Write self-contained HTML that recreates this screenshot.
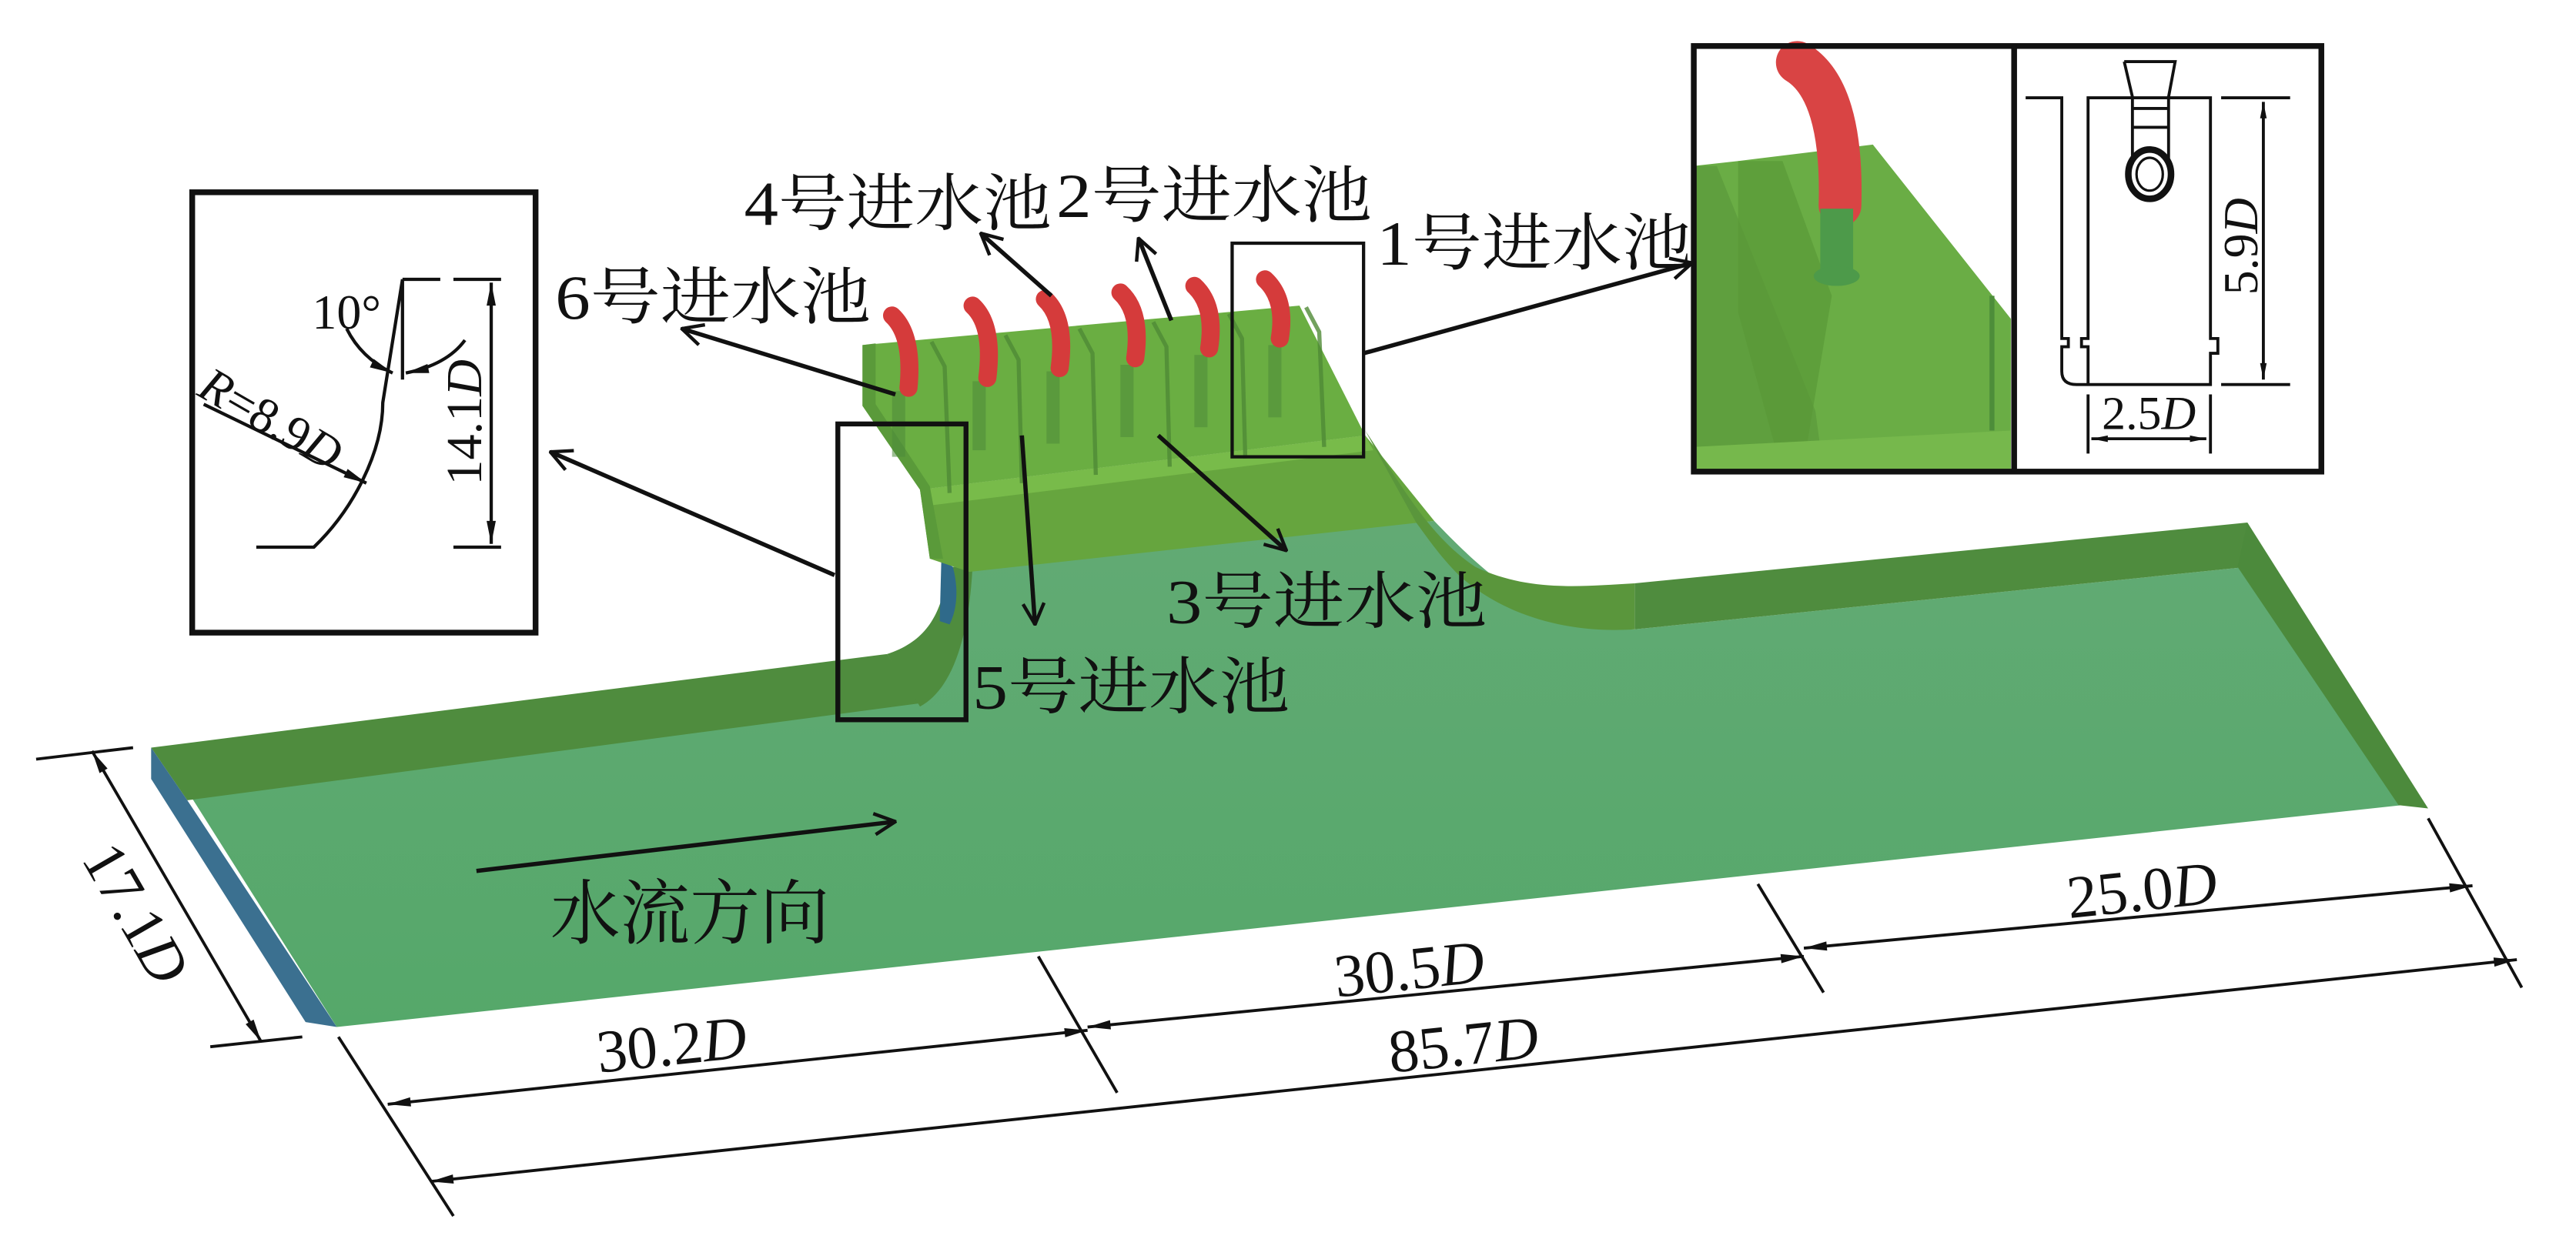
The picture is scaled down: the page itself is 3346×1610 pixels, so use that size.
<!DOCTYPE html>
<html><head><meta charset="utf-8"><style>
html,body{margin:0;padding:0;background:#fff;}
svg{display:block;}
text{font-family:"Liberation Serif","Noto Serif CJK SC","Noto Sans CJK SC",serif;fill:#111;}
</style></head><body>
<svg width="3346" height="1610" viewBox="0 0 1568 754" preserveAspectRatio="none" xmlns="http://www.w3.org/2000/svg">
<defs>
<marker id="fa" viewBox="0 0 20 10" refX="20" refY="5" markerWidth="17" markerHeight="7" orient="auto" markerUnits="userSpaceOnUse"><path d="M0,1 L20,5 L0,9 Z" fill="#111"/></marker>
<marker id="fs" viewBox="0 0 20 10" refX="0" refY="5" markerWidth="17" markerHeight="7" orient="auto" markerUnits="userSpaceOnUse"><path d="M20,1 L0,5 L20,9 Z" fill="#111"/></marker>
<marker id="sa" viewBox="0 0 20 10" refX="20" refY="5" markerWidth="12" markerHeight="5" orient="auto" markerUnits="userSpaceOnUse"><path d="M0,1 L20,5 L0,9 Z" fill="#111"/></marker>
<marker id="ss" viewBox="0 0 20 10" refX="0" refY="5" markerWidth="12" markerHeight="5" orient="auto" markerUnits="userSpaceOnUse"><path d="M20,1 L0,5 L20,9 Z" fill="#111"/></marker>
<marker id="oa" viewBox="0 0 20 20" refX="19" refY="10" markerWidth="16" markerHeight="16" orient="auto" markerUnits="userSpaceOnUse"><path d="M3,2 L19,10 L3,18" fill="none" stroke="#111" stroke-width="2.6"/></marker>
<linearGradient id="fl" x1="0" y1="0" x2="0" y2="1"><stop offset="0" stop-color="#62aa74"/><stop offset="1" stop-color="#55a86a"/></linearGradient>
</defs>

<path d="M112,478 L560,425 L590,345 L873,317 C900,345 940,385 995,383 L1368,345 L1462,490 L205,625 Z" fill="url(#fl)"/>
<path d="M92,455 L540,398 L560,428 L114,487 Z" fill="#4f8c3e"/>
<path d="M92,455 L114,487 L205,625 L186,622 L92,474 Z" fill="#3b7090"/>
<path d="M540,398 C565,390 574,372 577,345 L592,345 C590,382 582,418 560,430 Z" fill="#4f8c3e"/>
<path d="M573,340 L580,345 C584,360 582,372 578,380 L572,378 Z" fill="#2f6a8a"/>
<path d="M525,210 L791,186 L831,265 L560,298 L525,247 Z" fill="#6aae42"/>
<path d="M560,298 L831,265 L873,317 L590,348 L566,340 Z" fill="#66a53e"/>
<path d="M560,298 L831,265 L836,274 L563,308 Z" fill="#78bb4a"/>
<path d="M525,210 L525,247 L560,298 L566,340 L574,340 L566,296 L533,246 L533,209 Z" fill="#5a9a3a"/>
<path d="M831,262 C850,290 868,325 898,345 C930,360 960,357 995,355 L995,383 C950,386 912,372 888,350 C876,338 868,326 862,318 Z" fill="#5a963c"/>
<path d="M995,355 L1368,318 L1368,345 L995,383 Z" fill="#4f8c3e"/>
<path d="M1368,318 L1478,492 L1460,490 L1362,345 Z" fill="#4c8a3c"/>
<g stroke="#4f8a36" stroke-width="2.5" fill="none" opacity="0.8">
<path d="M567,208 L575,223 L578,300"/><path d="M612,204 L620,219 L622,294"/><path d="M657,200 L665,215 L667,289"/><path d="M702,196 L710,211 L712,284"/><path d="M748,191 L756,206 L758,279"/><path d="M795,187 L803,202 L806,272"/>
</g>
<g fill="#4d8a3a" opacity="0.55">
<rect x="543" y="238" width="8" height="40"/><rect x="592" y="232" width="8" height="42"/><rect x="637" y="226" width="8" height="44"/><rect x="682" y="222" width="8" height="44"/><rect x="727" y="216" width="8" height="44"/><rect x="772" y="210" width="8" height="44"/>
</g>
<g stroke="#d53b3b" stroke-width="11" fill="none" stroke-linecap="round">
<path d="M543,192 Q556,204 553,236"/><path d="M592,186 Q605,198 601,230"/><path d="M636,182 Q649,194 645,224"/><path d="M682,178 Q695,190 691,218"/><path d="M727,174 Q740,186 736,212"/><path d="M770,170 Q783,182 779,206"/>
</g>

<rect x="510" y="258" width="78" height="180" fill="none" stroke="#111" stroke-width="3"/>
<rect x="750" y="148" width="80" height="130" fill="none" stroke="#111" stroke-width="2"/>

<rect x="117" y="117" width="209" height="268" fill="#fff" stroke="#111" stroke-width="3.5"/>
<g stroke="#111" stroke-width="2" fill="none">
<path d="M156,333 L191,333 C215,310 233,275 233,245 L245,170 L245,231"/>
<path d="M245,170 L268,170 M276,170 L305,170 M276,333 L305,333"/>
<path d="M299,172 L299,331" marker-start="url(#fs)" marker-end="url(#fa)"/>
<path d="M211,200 Q220,218 239,227" marker-end="url(#fa)"/>
<path d="M283,207 Q272,222 247,227" marker-end="url(#fa)"/>
<path d="M124,246 L223,294" marker-end="url(#fa)"/>
</g>
<text x="190" y="200" font-size="30">10°</text>
<text transform="translate(293,257) rotate(-90)" font-size="31" text-anchor="middle">14.1<tspan font-style="italic">D</tspan></text>
<text transform="translate(119,240) rotate(30)" font-size="30"><tspan font-style="italic">R</tspan>=8.9<tspan font-style="italic">D</tspan></text>

<rect x="1031" y="28" width="382" height="259" fill="#fff"/>
<path d="M1031,101 L1058,98 L1140,88 L1224,194 L1224,287 L1031,287 Z" fill="#6aad45"/>
<path d="M1031,101 L1045,101 L1105,250 L1110,287 L1031,287 Z" fill="#5f9f3e"/>
<path d="M1058,98 L1085,98 L1115,180 L1100,270 L1080,270 L1058,190 Z" fill="#5a9838" opacity="0.7"/>
<path d="M1031,272 L1224,262 L1224,287 L1031,287 Z" fill="#76b84c"/>
<path d="M1094,38 Q1122,55 1120,125" stroke="#d94444" stroke-width="26" fill="none" stroke-linecap="round"/>
<rect x="1108" y="127" width="20" height="40" fill="#4d9a4a"/>
<ellipse cx="1118" cy="168" rx="14" ry="6" fill="#4d9a4a"/>
<path d="M1211,180 L1214,180 L1214,262 L1211,262 Z" fill="#4d8d3a"/>
<rect x="1031" y="28" width="382" height="259" fill="none" stroke="#111" stroke-width="3.5"/>
<line x1="1226" y1="28" x2="1226" y2="287" stroke="#111" stroke-width="3.5"/>
<g stroke="#111" stroke-width="1.8" fill="none">
<path d="M1233,59.5 L1255,59.5 L1255,206 L1259,206 L1259,211 L1255,211 L1255,226 Q1255,234 1264,234 L1345.5,234 L1345.5,215 L1350,215 L1350,206 L1345.5,206 L1345.5,59.5 L1271,59.5 L1271,206 L1267,206 L1267,211 L1271,211 L1271,234"/>
<path d="M1352,59.5 L1394,59.5 M1352,234 L1394,234"/>
<path d="M1377.7,62 L1377.7,231" marker-start="url(#ss)" marker-end="url(#sa)"/>
<path d="M1271,240 L1271,276 M1345.5,240 L1345.5,276"/>
<path d="M1273,267 L1343,267" marker-start="url(#ss)" marker-end="url(#sa)"/>
<path d="M1293,37.5 L1324,37.5 L1320,59 L1320,100 M1298,59 L1293,37.5 M1298,59 L1298,100 M1298,66 L1320,66 M1298,77.5 L1320,77.5"/>
</g>
<ellipse cx="1308.5" cy="106" rx="13" ry="15" fill="none" stroke="#111" stroke-width="4"/>
<ellipse cx="1308.5" cy="106" rx="8" ry="10" fill="none" stroke="#111" stroke-width="1.5"/>
<text transform="translate(1374,150) rotate(-90)" font-size="30" text-anchor="middle">5.9<tspan font-style="italic">D</tspan></text>
<text x="1308" y="261" font-size="29" text-anchor="middle">2.5<tspan font-style="italic">D</tspan></text>

<g stroke="#111" stroke-width="2.6" fill="none">
<path d="M545,240 L415,200" marker-end="url(#oa)"/>
<path d="M640,180 L597,142" marker-end="url(#oa)"/>
<path d="M713,195 L693,145" marker-end="url(#oa)"/>
<path d="M830,215 L1030,160" marker-end="url(#oa)"/>
<path d="M508,350 L335,275" marker-end="url(#oa)"/>
<path d="M622,265 L630,380" marker-end="url(#oa)"/>
<path d="M705,265 L783,335" marker-end="url(#oa)"/>
<path d="M290,530 L545,500" marker-end="url(#oa)"/>
</g>

<g font-size="38">
<text x="453" y="137" textLength="187" lengthAdjust="spacingAndGlyphs">4号进水池</text>
<text x="643" y="132" textLength="192" lengthAdjust="spacingAndGlyphs">2号进水池</text>
<text x="838" y="161" textLength="192" lengthAdjust="spacingAndGlyphs">1号进水池</text>
<text x="338" y="194" textLength="192" lengthAdjust="spacingAndGlyphs">6号进水池</text>
<text x="710" y="379" textLength="195" lengthAdjust="spacingAndGlyphs">3号进水池</text>
<text x="592" y="431" textLength="193" lengthAdjust="spacingAndGlyphs">5号进水池</text>
</g>
<text x="335" y="571" font-size="43" textLength="170" lengthAdjust="spacingAndGlyphs">水流方向</text>

<g stroke="#111" stroke-width="1.8" fill="none">
<path d="M22,462 L81,455 M128,637 L184,631"/>
<path d="M56,457 L159,634" marker-start="url(#fs)" marker-end="url(#fa)"/>
<path d="M206,631 L276,740 M632,582 L680,665 M1070,538 L1110,604 M1478,498 L1535,601"/>
<path d="M236,672 L662,627" marker-start="url(#fs)" marker-end="url(#fa)"/>
<path d="M662,625 L1098,582" marker-start="url(#fs)" marker-end="url(#fa)"/>
<path d="M1098,577 L1505,539" marker-start="url(#fs)" marker-end="url(#fa)"/>
<path d="M262,719 L1532,584" marker-start="url(#fs)" marker-end="url(#fa)"/>
</g>
<g font-size="37">
<text transform="translate(410,648) rotate(-6)" text-anchor="middle">30.2<tspan font-style="italic">D</tspan></text>
<text transform="translate(859,602) rotate(-6)" text-anchor="middle">30.5<tspan font-style="italic">D</tspan></text>
<text transform="translate(1305,554) rotate(-6)" text-anchor="middle">25.0<tspan font-style="italic">D</tspan></text>
<text transform="translate(892,648) rotate(-6)" text-anchor="middle">85.7<tspan font-style="italic">D</tspan></text>
<text transform="translate(72,562) rotate(60)" text-anchor="middle">17.1<tspan font-style="italic">D</tspan></text>
</g>
</svg>
</body></html>
